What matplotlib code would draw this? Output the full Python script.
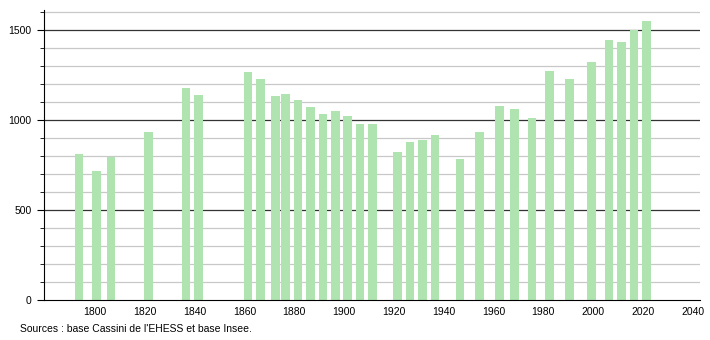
import matplotlib
matplotlib.use("Agg")
import matplotlib.pyplot as plt
from matplotlib.ticker import MultipleLocator

plt.rcParams['font.family'] = ['Liberation Sans', 'DejaVu Sans']

years = [1793, 1800, 1806, 1821, 1836, 1841, 1861, 1866, 1872, 1876, 1881, 1886,
         1891, 1896, 1901, 1906, 1911, 1921, 1926, 1931, 1936, 1946, 1954, 1962,
         1968, 1975, 1982, 1990, 1999, 2006, 2011, 2016, 2021]
population = [812, 714, 792, 932, 1178, 1139, 1268, 1229, 1133, 1144, 1113, 1069,
              1034, 1052, 1019, 978, 975, 820, 875, 886, 914, 781, 930, 1078,
              1063, 1013, 1272, 1229, 1323, 1445, 1434, 1500, 1550]
x_ticks = [1800, 1820, 1840, 1860, 1880, 1900, 1920, 1940, 1960, 1980, 2000, 2020, 2040]
y_ticks = [0, 500, 1000, 1500]
source = "Sources : base Cassini de l'EHESS et base Insee."

fig = plt.figure(figsize=(7.1, 3.4), dpi=100)
ax = fig.add_axes([44/710, 40/340, 656/710, 290/340])

ax.bar([y + 0.5 for y in years], population, width=3.4, color="#afe3af", zorder=2, linewidth=0)

ax.set_xlim(1779.5, 2043)
ax.set_ylim(0, 1610)
ax.set_xticks(x_ticks)
ax.set_yticks(y_ticks)
ax.yaxis.set_minor_locator(MultipleLocator(100))

for v in range(100, 1700, 100):
    if v % 500 == 0:
        ax.axhline(v, color="#333333", linewidth=0.9, zorder=1)
    else:
        ax.axhline(v, color="#c8c8c8", linewidth=0.9, zorder=1)

for s in ["top", "right"]:
    ax.spines[s].set_visible(False)
ax.spines["left"].set_color("black")
ax.spines["bottom"].set_color("black")
ax.tick_params(axis="x", length=0, labelsize=7.5, pad=5)
ax.tick_params(axis="y", which="major", length=5, labelsize=7.5, pad=4)
ax.tick_params(axis="y", which="minor", length=3)

fig.text(20/710, 1 - 329/340, source, fontsize=7.5, va="center", ha="left")

fig.savefig("out.png", dpi=100)
